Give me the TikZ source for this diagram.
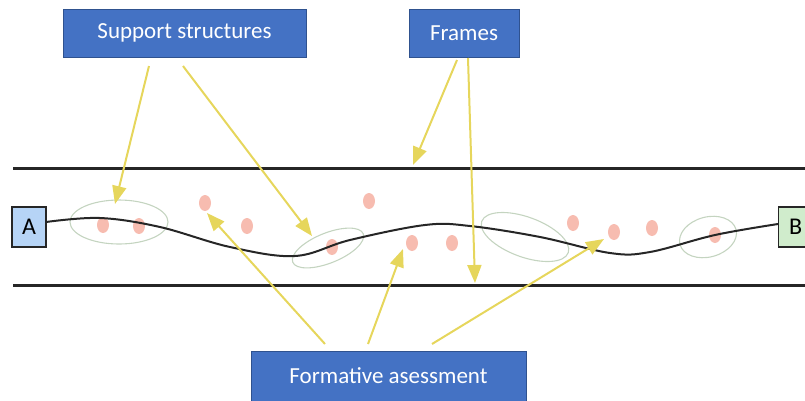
\documentclass[tikz,border=0pt]{standalone}
\usepackage{fontspec}
\setmainfont{Carlito}
\usetikzlibrary{arrows.meta,shapes.geometric}
\definecolor{boxblue}{RGB}{68,114,196}
\definecolor{boxedge}{RGB}{47,82,143}
\definecolor{arrowyel}{RGB}{230,214,92}
\definecolor{dotpink}{RGB}{247,188,176}
\definecolor{ringcol}{RGB}{196,212,192}
\definecolor{afill}{RGB}{182,212,246}
\definecolor{bfill}{RGB}{208,236,204}
\definecolor{framecol}{RGB}{38,38,38}
\tikzset{
  labelbox/.style={draw=boxedge, line width=0.8pt, fill=boxblue, text=white, inner sep=0pt,
    font=\fontsize{23}{28}\selectfont},
  endbox/.style={draw=framecol, line width=1.4pt, inner sep=0pt, minimum width=34pt, minimum height=40pt,
    font=\fontsize{24}{28}\selectfont},
  frameline/.style={draw=framecol, line width=3pt},
  pathline/.style={draw=framecol, line width=2pt},
  ring/.style={draw=ringcol, line width=1.1pt},
  dotmark/.style={fill=dotpink, draw=none, ellipse, inner sep=0pt, minimum width=12pt, minimum height=16pt},
  yarrow/.style={draw=arrowyel, line width=2pt, -{Triangle[length=18pt,width=14pt]}}
}
\begin{document}
\begin{tikzpicture}[x=1pt,y=-1pt]
\useasboundingbox (0,0) rectangle (805,400);
% boxes
\node[labelbox, minimum width=243pt, minimum height=48pt] (ss) at (184.5,33) {Support structures};
\node[labelbox, minimum width=110pt, minimum height=48pt] (fr) at (464,33) {Frames};
\node[labelbox, minimum width=275pt, minimum height=50pt] (fa) at (388.5,376) {Formative asessment};
% frame lines
\coordinate (t1) at (13,168); \coordinate (t2) at (805,168);
\coordinate (b1) at (13,285); \coordinate (b2) at (805,285);
\draw[frameline] (t1) -- (t2);
\draw[frameline] (b1) -- (b2);
% rings
\draw[ring] (119,222) ellipse [x radius=49, y radius=22];
\draw[ring, rotate around={22:(328,248)}] (328,248) ellipse [x radius=38, y radius=15];
\draw[ring, rotate around={-20:(525,237)}] (525,237) ellipse [x radius=46, y radius=20];
\draw[ring, rotate around={15:(708,237)}] (708,237) ellipse [x radius=29, y radius=20];
% dots
\node[dotmark] (d1) at (103,225) {};
\node[dotmark] (d2) at (139,226) {};
\node[dotmark] (d3) at (205,203) {};
\node[dotmark] (d4) at (247,226) {};
\node[dotmark] (d5) at (369,201) {};
\node[dotmark] (d6) at (332,247) {};
\node[dotmark] (d7) at (412,243) {};
\node[dotmark] (d8) at (452,243) {};
\node[dotmark] (d9) at (573,223) {};
\node[dotmark] (d10) at (614,232) {};
\node[dotmark] (d11) at (652,228) {};
\node[dotmark] (d12) at (715,235) {};
% end boxes
\node[endbox, fill=afill] (A) at (29,227) {A};
\node[endbox, fill=bfill, anchor=west] (B) at (778,227) {B};
% path
\draw[pathline] plot[smooth, tension=0.6] coordinates {(46,222) (100,218) (160,227) (230,247) (295,256) (350,240) (425,225) (470,226) (540,237) (610,253) (650,252) (715,235) (778,224)};
% arrows
\coordinate (s1) at (149,66); \coordinate (e1) at (115,204);
\coordinate (s2) at (183,66); \coordinate (e2) at (312,236);
\coordinate (s3) at (457,60); \coordinate (e3) at (413,165);
\coordinate (s4) at (468,58); \coordinate (e4) at (475,283);
\coordinate (s5) at (325,344); \coordinate (e5) at (207,213);
\coordinate (s6) at (368,344); \coordinate (e6) at (403,249);
\coordinate (s7) at (432,344); \coordinate (e7) at (604,239);
\draw[yarrow] (s1) -- (e1);
\draw[yarrow] (s2) -- (e2);
\draw[yarrow] (s3) -- (e3);
\draw[yarrow] (s4) -- (e4);
\draw[yarrow] (s5) -- (e5);
\draw[yarrow] (s6) -- (e6);
\draw[yarrow] (s7) -- (e7);
\end{tikzpicture}
\end{document}
